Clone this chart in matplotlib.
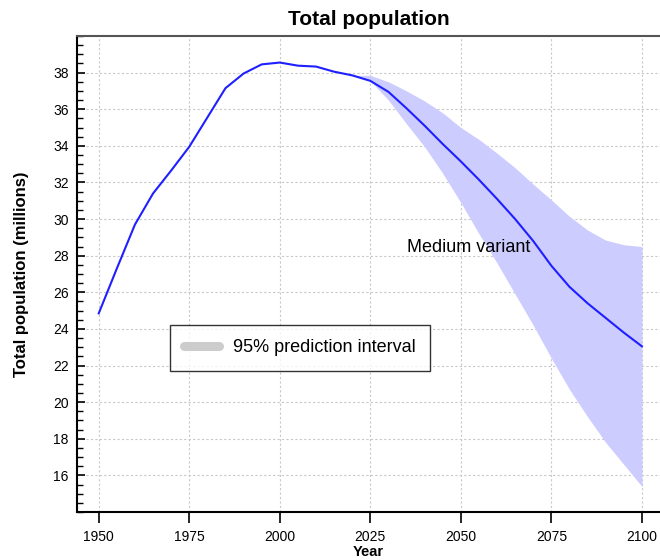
import numpy as np
from matplotlib import pyplot as plt
from matplotlib.lines import Line2D
from matplotlib.ticker import MultipleLocator

plt.rcParams['font.family'] = ['Liberation Sans', 'DejaVu Sans']

# estimates / historical series (millions)
years = [1950, 1955, 1960, 1965, 1970, 1975, 1980, 1985, 1990, 1995, 2000,
         2005, 2010, 2015, 2020, 2025, 2030, 2035, 2040, 2045, 2050, 2055,
         2060, 2065, 2070, 2075, 2080, 2085, 2090, 2095, 2100]
medium = [24.85, 27.3, 29.7, 31.4, 32.65, 33.95, 35.55, 37.15, 37.95, 38.45, 38.55,
          38.38, 38.33, 38.05, 37.85, 37.55, 36.95, 36.05, 35.1, 34.1, 33.15, 32.15,
          31.1, 30.0, 28.8, 27.45, 26.3, 25.4, 24.6, 23.8, 23.05]

# 95% prediction interval (projection years only)
pi_years = [2020, 2025, 2030, 2035, 2040, 2045, 2050, 2055, 2060, 2065, 2070,
            2075, 2080, 2085, 2090, 2095, 2100]
pi_upper = [37.85, 37.85, 37.5, 37.0, 36.45, 35.8, 35.0, 34.35, 33.6, 32.8, 31.9,
            31.05, 30.15, 29.4, 28.85, 28.6, 28.5]
pi_lower = [37.85, 37.55, 36.5, 35.2, 33.95, 32.5, 30.9, 29.2, 27.6, 25.9, 24.2,
            22.4, 20.7, 19.2, 17.8, 16.6, 15.4]

xticks = [1950, 1975, 2000, 2025, 2050, 2075, 2100]
yticks = [16, 18, 20, 22, 24, 26, 28, 30, 32, 34, 36, 38]

fig = plt.figure(figsize=(6.6, 5.6), dpi=100)
ax = fig.add_axes([77/660, 48/560, 1 - 77/660, 476/560])

ax.fill_between(pi_years, pi_lower, pi_upper, color='#ccccff', lw=0, zorder=1)
ax.plot(years, medium, color='#1f1fff', lw=1.5, zorder=3)

ax.set_xlim(1944, 2105)
ax.set_ylim(14, 40)
ax.set_xticks(xticks)
ax.set_yticks(yticks)
ax.yaxis.set_minor_locator(MultipleLocator(0.5))
ax.tick_params(axis='x', direction='out', length=8, width=1.2, pad=5, labelsize=10)
ax.tick_params(axis='y', which='major', direction='in', length=6, width=1.2, pad=6, labelsize=10)
ax.tick_params(axis='y', which='minor', direction='in', length=4, width=1.0)

ax.grid(True, which='major', color='#c8c8c8', ls=(0, (2, 2)), lw=0.8, zorder=0)
ax.set_axisbelow(True)

ax.spines['right'].set_visible(False)
ax.spines['top'].set_color('#555555')
ax.spines['top'].set_linewidth(1.5)
ax.spines['left'].set_linewidth(1.5)
ax.spines['bottom'].set_linewidth(1.5)

ax.set_title("Total population", fontsize=15, fontweight='bold', pad=8)
ax.set_xlabel("Year", fontsize=10.5, fontweight='bold', labelpad=0.5)
ax.set_ylabel("Total population (millions)", fontsize=12, fontweight='bold', labelpad=17)

ax.text(2035, 28.0, "Medium variant", fontsize=13, va='bottom', ha='left')

handle = Line2D([], [], color='#cccccc', lw=6.5, solid_capstyle='round')
leg = ax.legend([handle], ["95% prediction interval"], loc='upper left',
                bbox_to_anchor=(0.1595, 0.393), borderaxespad=0, fontsize=13,
                frameon=True, fancybox=False, handlelength=1.9, borderpad=0.8,
                handletextpad=0.8)
leg.get_frame().set_edgecolor('black')
leg.get_frame().set_linewidth(1.0)

plt.savefig("out.png", dpi=100)
